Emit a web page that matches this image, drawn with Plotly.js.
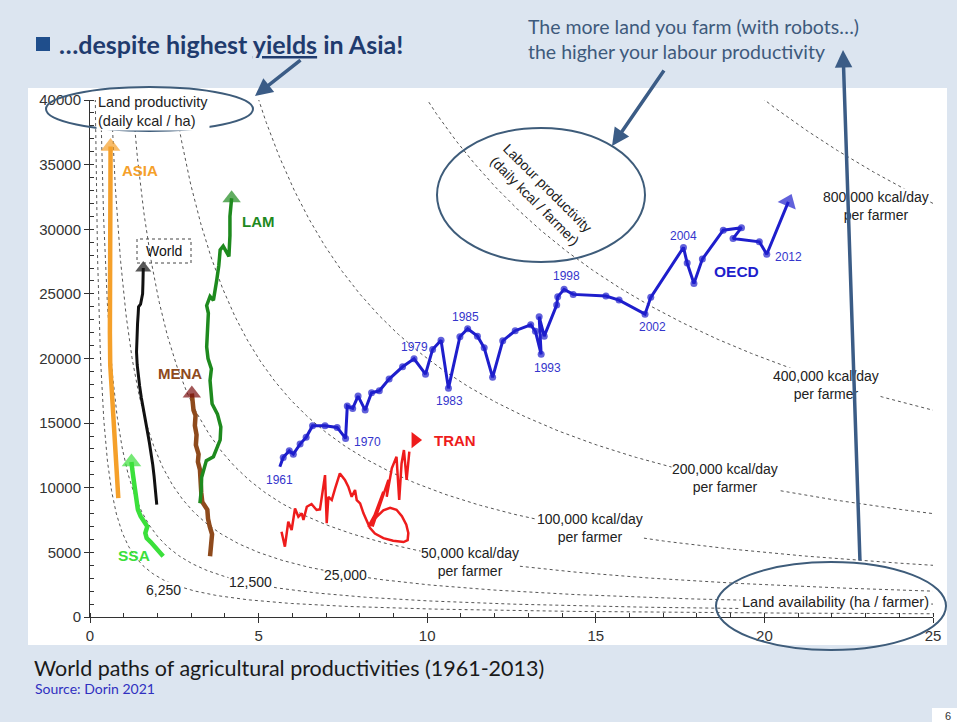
<!DOCTYPE html>
<html>
<head>
<meta charset="utf-8">
<script src="https://cdn.plot.ly/plotly-3.0.1.min.js"></script>
<style>html,body{margin:0;padding:0;background:#DCE5F0;}#chart{width:957px;height:722px;}</style>
</head>
<body>
<div id="chart"></div>
<script>
// ---------- DATA ----------
// iso labour-productivity curves (kcal/day per farmer)
const curveConstants = [6250, 12500, 25000, 50000, 100000, 200000, 400000, 800000];

const asiaX = [0.84,0.80,0.76,0.72,0.68,0.63,0.60,0.59,0.59,0.59,0.60,0.60,0.61];
const asiaY = [9200,10800,12500,14200,15900,17700,19500,22000,25000,28000,31000,34000,36400];

const ssaX = [2.17,2.08,1.98,1.90,1.80,1.68,1.64,1.70,1.58,1.50,1.42,1.38,1.34,1.30,1.28,1.25,1.23];
const ssaY = [4700,5000,5300,5500,5800,6100,6500,7000,7400,7800,8300,8900,9500,10200,10900,11500,12000];

const worldX = [1.98,1.95,1.90,1.86,1.82,1.76,1.70,1.63,1.58,1.52,1.47,1.43,1.40,1.38,1.39,1.41,1.43,1.44,1.50,1.56,1.57,1.58];
const worldY = [8700,9800,10900,11800,12600,13500,14400,15300,16000,17000,17900,18600,19500,20500,21600,22700,23500,24000,24200,25000,25800,27000];

const menaX = [3.56,3.58,3.62,3.55,3.50,3.48,3.40,3.33,3.30,3.28,3.26,3.20,3.22,3.14,3.16,3.11,3.13,3.07,3.05,3.02];
const menaY = [4700,5500,6400,7000,7600,8300,8700,8900,9600,10500,11400,12000,12600,13300,14100,14800,15600,16000,16500,17300];

const lamX = [3.26,3.30,3.31,3.38,3.45,3.66,3.75,3.86,3.88,3.78,3.62,3.58,3.56,3.60,3.50,3.46,3.48,3.51,3.46,3.56,3.66,3.72,3.76,3.82,3.86,3.95,4.12,4.15,4.15,4.20];
const lamY = [8800,9800,10800,11600,12100,12400,13000,13700,14700,15700,16500,17400,18300,19200,20000,20900,22000,23500,24100,24800,24500,25300,26100,27200,28400,28700,27900,29500,31000,32400];

const tranX = [5.68,5.78,5.88,5.98,6.08,6.18,6.28,6.33,6.43,6.57,6.72,6.82,6.97,7.02,7.07,7.17,7.27,7.41,7.56,7.66,7.76,7.86,7.91,8.01,8.11,8.21,8.30,8.45,8.70,8.99,9.30,9.42,9.44,9.38,9.25,9.09,8.90,8.70,8.50,8.25,8.55,8.32,8.70,8.38,8.85,8.80,8.95,9.09,9.17,9.24,9.31,9.39,9.47];
const tranY = [6600,5440,7370,6730,8400,7760,8020,7500,8530,8740,8280,8330,10980,7250,9300,9050,9950,11110,10600,10080,9300,9820,9050,8790,8020,7370,6900,6450,6100,5900,5800,5950,6500,7150,7800,8300,8450,8250,7750,6980,8400,7050,9690,7000,10600,9300,11500,12400,9050,11890,12920,10600,12790];
const tranArrowX = [9.64];
const tranArrowY = [13690];

const oecdYears = Array.from({length: 53}, (_, i) => 1961 + i);
const oecdX = [5.63,5.73,5.91,6.03,6.23,6.41,6.60,6.97,7.33,7.58,
               7.63,7.79,7.95,8.16,8.35,8.58,8.87,9.27,9.61,9.95,
               10.16,10.41,10.63,10.97,11.20,11.49,11.69,11.94,12.24,12.61,
               13.07,13.21,13.38,13.32,13.47,13.84,13.87,14.06,14.33,15.30,
               15.69,16.46,16.63,17.60,17.71,17.91,18.16,18.78,19.32,19.07,
               19.85,20.07,20.71];
const oecdY = [11620,12350,12860,12600,13380,13900,14800,14800,14670,13820,
               16320,16140,17090,16010,17350,17500,18410,19360,19980,18790,
               20700,21420,17690,21680,22300,21730,20830,18540,21370,22150,
               22610,22100,20320,23230,21730,24130,24770,25350,24960,24830,
               24520,23430,24730,28590,27380,25800,27690,29930,30120,29280,
               29030,28070,32120];
const labelledYears = [1961, 1970, 1979, 1983, 1985, 1993, 1998, 2002, 2004, 2012];

const xTickVals = [0, 5, 10, 15, 20, 25];
const yTickVals = [0, 5000, 10000, 15000, 20000, 25000, 30000, 35000, 40000];

// ---------- GEOMETRY HELPERS ----------
const L = 90, T = 100, PW = 843, PH = 517;
const PX = p => (p - L) / PW;
const PY = p => (T + PH - p) / PH;
const AR = 'Liberation Sans, Arial, sans-serif';
const CAL = 'Lato, Open Sans, sans-serif';

// ---------- TRACES ----------
const traces = [];
curveConstants.forEach(C => {
  const xs = [], ys = [];
  const x0 = C / 41000, x1 = 25, n = 260;
  for (let i = 0; i <= n; i++) {
    const x = x0 * Math.pow(x1 / x0, i / n);
    xs.push(x); ys.push(C / x);
  }
  traces.push({x: xs, y: ys, mode: 'lines', hoverinfo: 'skip',
    line: {color: '#555', width: 1, dash: '3px,3px'}});
});

function pathTrace(xs, ys, color, width, arrowSize, arrowColor) {
  const n = xs.length;
  return {
    x: xs, y: ys, mode: 'lines+markers', hoverinfo: 'skip',
    line: {color: color, width: width},
    marker: {
      symbol: xs.map((_, i) => i === n - 1 ? 'triangle-up' : 'circle'),
      size: xs.map((_, i) => i === n - 1 ? arrowSize : 0),
      color: arrowColor || color,
      line: {width: 0}
    }
  };
}
traces.push(pathTrace(asiaX, asiaY, '#F5A02A', 4.5, 17));
traces.push(pathTrace(worldX, worldY, '#111111', 3, 14));
traces.push(pathTrace(ssaX, ssaY, '#3BE03B', 4.5, 17));
traces.push(pathTrace(menaX, menaY, '#8E4A1C', 4.5, 16, '#7A1010'));
traces.push(pathTrace(lamX, lamY, '#1E8A1E', 3.5, 16));
traces.push({x: tranX, y: tranY, mode: 'lines', hoverinfo: 'skip',
  line: {color: '#EE1C1C', width: 2.5}});
traces.push({x: tranArrowX, y: tranArrowY, mode: 'markers', hoverinfo: 'skip',
  marker: {symbol: 'triangle-right', size: 14, color: '#EE1C1C'}});
const nO = oecdX.length;
traces.push({
  x: oecdX, y: oecdY, mode: 'lines+markers', hoverinfo: 'skip',
  line: {color: '#1E1ECC', width: 3},
  marker: {
    symbol: oecdX.map((_, i) => i === nO - 1 ? 'triangle-up' : 'circle'),
    size: oecdX.map((_, i) => i === nO - 1 ? 17 : 7),
    angleref: 'previous',
    color: '#1E1ECC', line: {width: 0}
  }
});

// ---------- ANNOTATIONS ----------
const ann = [];
function txt(text, x, y, o) {
  return Object.assign({xref: 'paper', yref: 'paper', x: PX(x), y: PY(y), text: text,
    showarrow: false, xanchor: 'center', yanchor: 'middle',
    font: {family: AR, size: 14, color: '#222'}}, o || {});
}
// curve labels
const curveLabelPos = [[163, 590], [250, 582], [345, 575], [470, 562], [590, 528], [725, 478], [826, 385], [876, 206]];
curveConstants.forEach((C, i) => {
  const s = C.toLocaleString('en-US') + (C >= 50000 ? ' kcal/day<br>per farmer' : '');
  ann.push(txt(s, curveLabelPos[i][0], curveLabelPos[i][1], {bgcolor: 'white', borderpad: 0}));
});
ann.push(txt('Land availability (ha / farmer)', 835, 602, {bgcolor: 'white', font: {family: AR, size: 14.5, color: '#222'}}));
ann.push(txt('Land productivity<br>(daily kcal / ha)', 96, 111, {xanchor: 'left', align: 'left', bgcolor: 'white', font: {family: AR, size: 14.5, color: '#222'}}));
ann.push(txt('Labour productivity<br>(daily kcal / farmer)', 541, 194, {textangle: 45, font: {family: AR, size: 14, color: '#222'}}));

// series labels
const bold = (c, s) => ({family: AR, size: s || 15, color: c});
ann.push(txt('<b>ASIA</b>', 140, 170, {font: bold('#F5A02A')}));
ann.push(txt('<b>LAM</b>', 258, 221, {font: bold('#1E8A1E')}));
ann.push(txt('World', 164, 251, {font: {family: AR, size: 14, color: '#111'}}));
ann.push(txt('<b>MENA</b>', 180, 373, {font: bold('#8E4A1C')}));
ann.push(txt('<b>SSA</b>', 134, 555, {font: bold('#3BE03B', 15.5)}));
ann.push(txt('<b>TRAN</b>', 455, 440, {font: bold('#EE1C1C')}));
ann.push(txt('<b>OECD</b>', 736, 271, {font: bold('#1E1ECC', 15.5)}));

// year labels on OECD path
const yearShift = {1961: [0, -13], 1970: [22, -4], 1979: [0, 12], 1983: [1, -13], 1985: [-2, 12],
  1993: [6, -14], 1998: [2, 13], 2002: [7, -13], 2004: [0, 11], 2012: [22, -3]};
labelledYears.forEach(yr => {
  const i = oecdYears.indexOf(yr);
  ann.push({xref: 'x', yref: 'y', x: oecdX[i], y: oecdY[i], text: String(yr), showarrow: false,
    xshift: yearShift[yr][0], yshift: yearShift[yr][1],
    font: {family: AR, size: 12, color: '#3535CC'}});
});

// slide texts
ann.push(txt('<b>…despite highest <u>yields</u> in Asia!</b>', 57, 44, {xanchor: 'left', font: {family: CAL, size: 25, color: '#1F3B6E'}}));
ann.push(txt('The more land you farm (with robots…)<br>the higher your labour productivity', 526, 39, {xanchor: 'left', align: 'left', font: {family: CAL, size: 19.5, color: '#3E5A7C'}}));
ann.push(txt('World paths of agricultural productivities (1961-2013)', 32, 668, {xanchor: 'left', font: {family: CAL, size: 21.5, color: '#1a1a1a'}}));
ann.push(txt('Source: Dorin 2021', 33, 688, {xanchor: 'left', font: {family: CAL, size: 14, color: '#3030C0'}}));
ann.push(txt('6', 943, 716, {xanchor: 'left', font: {family: AR, size: 11, color: '#333'}}));

// big explanatory arrows
function arrow(hx, hy, tx, ty) {
  return {xref: 'paper', yref: 'paper', x: PX(hx), y: PY(hy), text: '', showarrow: true,
    ax: tx - hx, ay: ty - hy, arrowhead: 2, arrowsize: 1, arrowwidth: 3.5, arrowcolor: '#3B5C86', standoff: 0};
}
ann.push(arrow(255, 96, 302, 59));
ann.push(arrow(612, 146, 665, 69));
ann.push(arrow(843, 50, 860, 562));

// ---------- SHAPES ----------
const shapes = [
  {type: 'rect', xref: 'paper', yref: 'paper', x0: PX(28), x1: PX(947), y0: PY(645), y1: PY(88),
    fillcolor: 'white', line: {width: 0}, layer: 'below'},
  {type: 'rect', xref: 'paper', yref: 'paper', x0: PX(932), x1: PX(960), y0: PY(725), y1: PY(708),
    fillcolor: 'white', line: {width: 0}, layer: 'below'},
  {type: 'rect', xref: 'paper', yref: 'paper', x0: PX(36), x1: PX(50), y0: PY(51), y1: PY(37),
    fillcolor: '#1F4E8C', line: {width: 0}},
  {type: 'rect', xref: 'paper', yref: 'paper', x0: PX(137), x1: PX(191), y0: PY(263), y1: PY(239),
    line: {color: '#444', width: 1, dash: 'dot'}},
  {type: 'circle', xref: 'paper', yref: 'paper', x0: PX(46), x1: PX(253), y0: PY(131), y1: PY(87),
    line: {color: '#3E5C7A', width: 2}},
  {type: 'circle', xref: 'paper', yref: 'paper', x0: PX(437), x1: PX(645), y0: PY(262), y1: PY(128),
    line: {color: '#3E5C7A', width: 2}},
  {type: 'circle', xref: 'paper', yref: 'paper', x0: PX(716), x1: PX(946), y0: PY(650), y1: PY(562),
    line: {color: '#3E5C7A', width: 2}}
];

const axisCommon = {
  ticks: 'outside', ticklen: 5, tickcolor: '#333', tickwidth: 1,
  showline: true, linecolor: '#333', linewidth: 1,
  showgrid: false, zeroline: false,
  tickfont: {family: AR, size: 15, color: '#333'}
};
const layout = {
  width: 957, height: 722,
  margin: {l: L, r: 24, t: T, b: 105},
  paper_bgcolor: '#DCE5F0', plot_bgcolor: 'rgba(0,0,0,0)',
  showlegend: false,
  xaxis: Object.assign({}, axisCommon, {range: [0, 25], tickvals: xTickVals,
    minor: {dtick: 1, ticks: 'inside', ticklen: 4, tickcolor: '#333', showgrid: false}}),
  yaxis: Object.assign({}, axisCommon, {range: [0, 40000], tickvals: yTickVals, tickformat: 'd',
    minor: {dtick: 1000, ticks: 'inside', ticklen: 4, tickcolor: '#333', showgrid: false}}),
  annotations: ann,
  shapes: shapes
};
Plotly.newPlot('chart', traces, layout, {staticPlot: true, displayModeBar: false});
</script>
</body>
</html>
